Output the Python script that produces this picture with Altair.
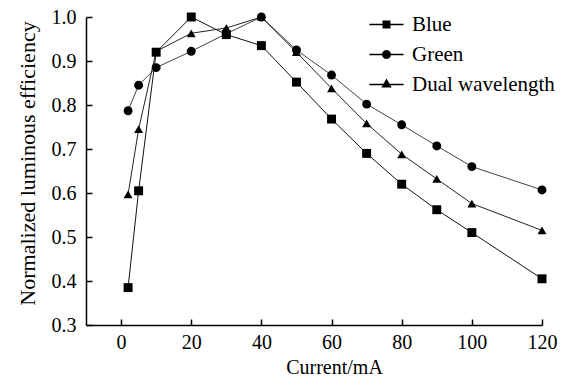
import altair as alt
import pandas as pd

current = [2, 5, 10, 20, 30, 40, 50, 60, 70, 80, 90, 100, 120]
blue = [0.385, 0.605, 0.920, 1.000, 0.960, 0.935, 0.852, 0.768, 0.690, 0.620, 0.562, 0.510, 0.405]
green = [0.787, 0.845, 0.885, 0.922, 0.962, 1.000, 0.925, 0.868, 0.802, 0.755, 0.707, 0.660, 0.607]
dual = [0.597, 0.745, 0.922, 0.963, 0.975, 1.000, 0.920, 0.838, 0.758, 0.688, 0.632, 0.576, 0.515]
series_names = ["Blue", "Green", "Dual wavelength"]
marker_shapes = ["square", "circle", "triangle-up"]
line_colors = ["#111111", "#444444", "#222222"]

x_ticks = [0, 10, 20, 30, 40, 50, 60, 70, 80, 90, 100, 110, 120]
y_ticks = [0.3, 0.35, 0.4, 0.45, 0.5, 0.55, 0.6, 0.65, 0.7, 0.75, 0.8, 0.85, 0.9, 0.95, 1.0]

rows = []
for name, vals in zip(series_names, [blue, green, dual]):
    for c, v in zip(current, vals):
        rows.append({"current": c, "eff": v, "series": name})
df = pd.DataFrame(rows)

FONT = "Liberation Serif"

x_enc = alt.X(
    "current:Q",
    scale=alt.Scale(domain=[-10, 120], nice=False, zero=False),
    axis=alt.Axis(
        values=x_ticks,
        labelExpr="datum.value % 20 == 0 ? datum.label : ''",
        title="Current/mA",
        titleX=248,
        titleY=48,
        titleBaseline="alphabetic",
        tickSize={"expr": "-6"},
        labelPadding=13,
    ),
)
y_enc = alt.Y(
    "eff:Q",
    scale=alt.Scale(domain=[0.3, 1.0], nice=False, zero=False),
    axis=alt.Axis(
        values=y_ticks,
        labelExpr="round(datum.value*100) % 10 == 0 ? format(datum.value, '.1f') : ''",
        title="Normalized luminous efficiency",
        titleX=-52,
        titleY=146,
        titleBaseline="alphabetic",
        titleFontSize=22,
        tickSize={"expr": "-6"},
        labelPadding=16,
    ),
)

line_layers = []
point_layers = []
for i, (name, shp, col) in enumerate(zip(series_names, marker_shapes, line_colors)):
    base = alt.Chart(df).transform_filter(alt.datum.series == name)
    line_layers.append(
        base.mark_line(strokeWidth=1, color=col).encode(
            x=x_enc if i == 0 else alt.X("current:Q"),
            y=y_enc if i == 0 else alt.Y("eff:Q"),
        )
    )
    point_layers.append(
        base.mark_point(filled=True, opacity=1, color="black", size=80, shape=shp).encode(
            x="current:Q", y="eff:Q"
        )
    )

# legend glyphs: a thin filled bar (the line) plus the marker
BAR = "M-0.9,-0.035L0.9,-0.035L0.9,0.035L-0.9,0.035Z"
legend_paths = [
    BAR + "M-0.21,-0.21L0.21,-0.21L0.21,0.21L-0.21,0.21Z",
    BAR + "M0.24,0L0.208,0.12L0.12,0.208L0,0.24L-0.12,0.208L-0.208,0.12L-0.24,0"
    "L-0.208,-0.12L-0.12,-0.208L0,-0.24L0.12,-0.208L0.208,-0.12Z",
    BAR + "M0,-0.32L0.27,0.16L-0.27,0.16Z",
]

legend_cfg = alt.Legend(
    title=None,
    orient="none",
    legendX=281,
    legendY=-12,
    padding=0,
    rowPadding=-13,
    symbolSize=1444,
    symbolOpacity=1,
    symbolFillColor="black",
    symbolStrokeColor="black",
    symbolStrokeWidth=1,
    labelOffset=6,
    labelFont=FONT,
    labelFontSize=21,
    labelColor="black",
)

legend_layer = alt.Chart(df).mark_point(
    filled=True, opacity=1, size=0, color="black", stroke="black", strokeWidth=1
).encode(
    x="current:Q",
    y="eff:Q",
    shape=alt.Shape(
        "series:N",
        scale=alt.Scale(domain=series_names, range=legend_paths),
        legend=legend_cfg,
    ),
)

chart = (
    alt.layer(*line_layers, *point_layers, legend_layer)
    .properties(
        width=456,
        height=308,
        autosize=alt.AutoSizeParams(type="none"),
        padding={"left": 78, "top": 9, "right": 21, "bottom": 51},
        background="white",
    )
    .configure_view(stroke=None)
    .configure_axis(
        grid=False,
        domainColor="black",
        domainWidth=1.5,
        tickColor="black",
        tickWidth=1.5,
        labelFont=FONT,
        labelFontSize=20,
        labelColor="black",
        titleFont=FONT,
        titleFontSize=20,
        titleFontWeight="normal",
        titleColor="black",
        labelFlush=False,
        labelOverlap=False,
    )
)

chart.save("out.html", embed_options={"renderer": "svg", "actions": False})
